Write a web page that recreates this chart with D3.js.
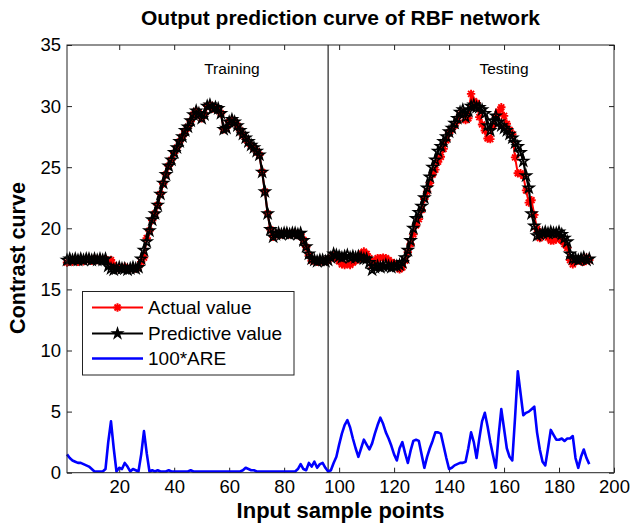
<!DOCTYPE html>
<html><head><meta charset="utf-8">
<script src="https://cdn.jsdelivr.net/npm/d3@7"></script>
<style>
body{margin:0;background:#fff}
svg{display:block}
text{font-family:"Liberation Sans",Arial,Helvetica,sans-serif;fill:#000}
</style>
</head><body>
<svg id="chart" width="630" height="528"></svg>
<script>
// ---- data ----
const predictiveValue = [
 17.4,17.5,17.4,17.5,17.4,17.5,17.4,17.5,17.5,17.4,17.5,17.4,17.5,17.4,17.5,
 16.9,
 16.7,16.6,16.7,16.8,16.7,16.7,16.6,16.7,16.8,16.7,16.8,
 17.5,18.2,18.9,19.8,20.7,21.2,21.9,22.8,23.7,24.4,25.1,25.6,26.2,26.6,27.1,27.5,28.0,28.3,28.8,29.3,29.6,
 29.4,29.0,29.3,30.0,30.1,29.8,29.9,29.8,29.4,28.1,28.2,28.7,28.9,28.7,28.4,28.0,27.7,27.4,27.1,26.8,26.6,26.3,26.0,
 24.6,23.0,21.2,19.9,19.3,
 19.5,19.6,19.5,19.6,19.6,19.5,19.6,19.6,19.5,19.6,
 19.0,18.5,17.9,17.5,17.4,17.3,17.4,17.4,17.3,17.4,
 17.6,17.9,17.8,17.7,17.6,17.7,17.8,17.6,17.7,17.6,17.7,17.6,17.5,17.5,17.2,
 16.6,16.8,16.9,16.8,16.9,17.0,16.9,16.8,16.9,16.9,17.0,17.2,
 17.6,18.2,19.0,20.0,20.8,21.3,21.8,22.5,23.3,24.2,25.0,25.6,26.3,26.7,27.1,27.5,27.9,28.2,28.6,29.0,29.5,29.7,
 29.1,29.6,30.0,30.1,29.9,29.9,29.7,29.4,28.4,28.0,28.8,29.2,28.7,28.4,28.2,28.0,27.7,27.4,27.0,26.7,26.2,25.5,
 24.3,23.3,21.2,20.2,19.4,19.5,
 19.6,19.7,19.6,19.7,19.6,19.6,19.7,19.5,
 19.2,18.9,17.9,17.5,17.5,17.4,17.5,17.6,17.4,17.5
];
const actualValue = [
 17.2,17.3,17.25,17.35,17.25,17.35,17.3,17.4,17.4,17.35,17.5,17.4,17.5,17.4,17.45,
 17.3,
 17.4,17.0,16.7,16.75,16.75,16.85,16.7,16.7,16.75,16.7,16.8,
 17.25,17.6,19.2,19.8,20.65,21.2,21.9,22.8,23.65,24.4,25.1,25.6,26.15,26.6,27.1,27.5,27.95,28.3,28.75,29.3,29.6,
 29.4,29.0,29.3,30.0,30.1,29.8,29.9,29.8,29.4,28.1,28.2,28.7,28.9,28.7,28.4,28.0,27.65,27.3,27.0,26.75,26.55,26.3,26.0,
 24.6,23.0,21.2,19.9,19.3,
 19.5,19.6,19.5,19.6,19.6,19.5,19.6,19.6,19.45,19.5,
 19.05,18.45,17.8,17.35,17.35,17.25,17.3,17.25,17.35,17.4,
 17.6,17.75,17.55,17.3,17.05,17.0,17.05,17.0,17.2,17.35,17.5,17.95,18.1,17.9,17.55,
 17.0,17.35,17.55,17.55,17.6,17.55,17.4,17.2,17.15,17.05,16.65,16.8,
 17.35,18.05,18.7,19.5,20.25,20.75,21.5,22.4,23.0,23.7,24.4,24.8,25.45,25.85,26.5,27.2,27.8,28.1,28.4,28.8,29.3,29.45,
 28.85,29.0,31.0,30.4,30.25,29.1,28.5,28.0,27.35,27.3,28.4,29.1,29.55,29.9,29.2,28.55,28.05,27.7,25.8,24.5,24.5,24.3,
 23.1,22.1,22.3,21.1,19.95,19.2,
 19.45,19.6,19.25,19.0,19.0,19.1,19.15,19.0,
 18.7,18.4,17.4,17.05,17.3,17.45,17.3,17.25,17.6,17.4
];
const are100 = [
 1.5,1.2,1.0,0.9,0.8,0.8,0.7,0.6,0.5,0.3,0.1,0.1,0.1,0.1,0.3,
 2.5,4.2,2.0,0.1,0.4,0.3,0.8,0.5,0.1,0.3,0.2,0.1,1.5,3.4,1.6,
 0.1,0.2,0.1,0.2,0.1,0.1,0.1,0.2,0.1,0.1,0.1,0.1,0.1,0.1,0.1,
 0.2,0.1,0.1,0.1,0.1,0.1,0.1,0.1,0.1,0.1,0.1,0.1,0.1,0.1,0.1,
 0.1,0.1,0.1,0.1,0.2,0.4,0.3,0.2,0.2,0.1,0.1,0.1,0.1,0.1,0.1,
 0.1,0.1,0.1,0.1,0.1,0.1,0.1,0.1,0.1,0.3,0.7,0.3,0.2,0.8,0.5,
 0.9,0.4,0.7,0.8,0.4,0.1,
 0.2,0.8,1.3,2.3,3.2,3.9,4.3,3.7,2.8,2.0,1.3,2.0,2.7,2.3,1.9,
 2.4,3.2,3.9,4.5,4.0,3.3,2.8,2.2,1.5,1.0,2.0,2.5,1.6,0.8,1.8,
 2.6,2.7,2.6,1.5,0.4,1.3,2.0,2.6,3.3,3.3,3.2,2.2,1.2,0.3,0.4,
 0.6,0.7,0.8,0.8,0.9,2.0,3.3,2.5,1.2,2.8,4.2,4.9,3.8,2.5,1.4,
 0.4,3.0,5.2,3.6,2.0,1.3,1.0,4.5,8.3,6.5,4.7,4.9,5.0,5.2,5.4,
 3.3,1.9,0.9,0.6,2.0,3.5,3.1,2.7,2.7,2.8,2.6,2.8,2.8,3.0,1.2,
 0.4,1.3,1.9,1.2,0.7
];
const xTicks = [20,40,60,80,100,120,140,160,180,200];
const yTicks = [0,5,10,15,20,25,30,35];
const splitSample = 96;
const legendLabels = ["Actual value","Predictive value","100*ARE"];
const phaseLabels = [{name:"Training", at:61}, {name:"Testing", at:160}];
const titleText = "Output prediction curve of RBF network";
const xLabelText = "Input sample points";
const yLabelText = "Contrast curve";

// ---- drawing ----
const svg = d3.select("#chart");
const L = 67, R = 614, T = 45, B = 472.7;
const x = d3.scaleLinear().domain([1, 200]).range([L, R]);
const y = d3.scaleLinear().domain([0, 35]).range([B, T]);
const sample = (d, i) => i + 1;

svg.append("rect").attr("width", 630).attr("height", 528).attr("fill", "#fff");

// axes with inward ticks (box style)
const axB = svg.append("g").attr("transform", `translate(0,${B})`)
  .call(d3.axisBottom(x).tickValues(xTicks).tickSizeInner(-5).tickSizeOuter(0).tickPadding(7));
const axT = svg.append("g").attr("transform", `translate(0,${T})`)
  .call(d3.axisTop(x).tickValues(xTicks).tickSizeInner(-5).tickSizeOuter(0).tickFormat(""));
const axL = svg.append("g").attr("transform", `translate(${L},0)`)
  .call(d3.axisLeft(y).tickValues(yTicks).tickSizeInner(-5).tickSizeOuter(0).tickPadding(6));
const axR = svg.append("g").attr("transform", `translate(${R},0)`)
  .call(d3.axisRight(y).tickValues(yTicks).tickSizeInner(-5).tickSizeOuter(0).tickFormat(""));
[axB, axT, axL, axR].forEach(g => {
  g.select(".domain").remove();
  g.selectAll(".tick line").attr("stroke", "#222").attr("stroke-width", 1);
  g.selectAll(".tick text").attr("font-size", 18.5).attr("font-family", '"Liberation Sans",Arial,sans-serif').attr("fill", "#000");
});

// divider between training and testing
svg.append("line").attr("x1", x(splitSample)).attr("x2", x(splitSample))
  .attr("y1", T).attr("y2", B).attr("stroke", "#333").attr("stroke-width", 1.3);

// phase labels
svg.selectAll("text.phase").data(phaseLabels).enter().append("text")
  .attr("class", "phase").attr("x", d => x(d.at)).attr("y", 74)
  .attr("text-anchor", "middle").attr("font-size", 15.5).text(d => d.name);

// marker paths
function asteriskPath(r) {
  const a = r * 0.7071;
  return `M${-r},0L${r},0M0,${-r}L0,${r}M${-a},${-a}L${a},${a}M${-a},${a}L${a},${-a}`;
}
function pentagramPath(R0) {
  const r0 = R0 * 0.382; let p = "";
  for (let k = 0; k < 10; k++) {
    const rr = k % 2 ? r0 : R0, ang = -Math.PI / 2 + k * Math.PI / 5;
    p += (k ? "L" : "M") + (rr * Math.cos(ang)).toFixed(2) + "," + (rr * Math.sin(ang)).toFixed(2);
  }
  return p + "Z";
}
const line = d3.line().x((d, i) => x(sample(d, i))).y(d => y(d));

// actual (red)
svg.append("path").datum(actualValue).attr("d", line)
  .attr("fill", "none").attr("stroke", "#ff0000").attr("stroke-width", 2);
svg.append("g").selectAll("path").data(actualValue).enter().append("path")
  .attr("transform", (d, i) => `translate(${x(sample(d, i))},${y(d)})`)
  .attr("d", asteriskPath(4.2)).attr("stroke", "#ff0000").attr("stroke-width", 1.9).attr("fill", "none");

// predictive (black)
svg.append("path").datum(predictiveValue).attr("d", line)
  .attr("fill", "none").attr("stroke", "#000").attr("stroke-width", 2.2);
svg.append("g").selectAll("path").data(predictiveValue).enter().append("path")
  .attr("transform", (d, i) => `translate(${x(sample(d, i))},${y(d)})`)
  .attr("d", pentagramPath(5.3)).attr("stroke", "#000").attr("stroke-width", 1.6).attr("fill", "none")
  .attr("stroke-linejoin", "miter");

// 100*ARE (blue)
svg.append("path").datum(are100).attr("d", line)
  .attr("fill", "none").attr("stroke", "#0000ff").attr("stroke-width", 2.6).attr("stroke-linejoin", "round");

// frame
svg.append("rect").attr("x", L).attr("y", T).attr("width", R - L).attr("height", B - T)
  .attr("fill", "none").attr("stroke", "#222").attr("stroke-width", 1);

// legend
const lg = svg.append("g");
lg.append("rect").attr("x", 82.5).attr("y", 291.5).attr("width", 211.5).attr("height", 83.5)
  .attr("fill", "#fff").attr("stroke", "#222").attr("stroke-width", 1);
const rows = [307.5, 333.5, 358.5];
const colors = ["#ff0000", "#000", "#0000ff"];
legendLabels.forEach((lab, k) => {
  lg.append("line").attr("x1", 92).attr("x2", 143).attr("y1", rows[k]).attr("y2", rows[k])
    .attr("stroke", colors[k]).attr("stroke-width", k === 2 ? 2.6 : 2.2);
  if (k === 0) lg.append("path").attr("transform", `translate(117.5,${rows[k]})`)
    .attr("d", asteriskPath(4.2)).attr("stroke", "#ff0000").attr("stroke-width", 2).attr("fill", "none");
  if (k === 1) lg.append("path").attr("transform", `translate(117.5,${rows[k]})`)
    .attr("d", pentagramPath(5.3)).attr("stroke", "#000").attr("stroke-width", 1.4).attr("fill", "#000");
  lg.append("text").attr("x", 148).attr("y", rows[k]).attr("dy", "0.36em")
    .attr("font-size", 19).text(lab);
});

// titles
svg.append("text").attr("x", (L + R) / 2).attr("y", 25).attr("text-anchor", "middle")
  .attr("font-size", 21).attr("font-weight", "bold").text(titleText);
svg.append("text").attr("x", (L + R) / 2).attr("y", 518).attr("text-anchor", "middle")
  .attr("font-size", 22).attr("font-weight", "bold").text(xLabelText);
svg.append("text").attr("transform", "translate(25,258) rotate(-90)").attr("text-anchor", "middle")
  .attr("font-size", 21.5).attr("font-weight", "bold").text(yLabelText);
</script>
</body></html>
